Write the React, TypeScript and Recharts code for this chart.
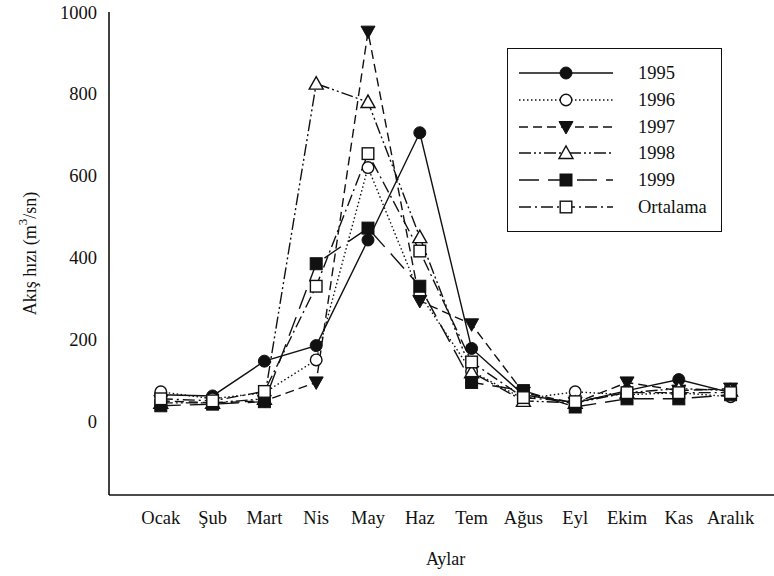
import { LineChart, Line, XAxis, YAxis, Legend, Label } from 'recharts'

const months = ['Ocak', 'Şub', 'Mart', 'Nis', 'May', 'Haz', 'Tem', 'Ağus', 'Eyl', 'Ekim', 'Kas', 'Aralık']

const y1995 = [65, 62, 147, 185, 443, 705, 178, 65, 45, 75, 102, 70]
const y1996 = [72, 55, 70, 150, 620, 310, 122, 55, 72, 65, 70, 60]
const y1997 = [50, 45, 50, 95, 952, 294, 237, 70, 45, 95, 75, 80]
const y1998 = [45, 45, 55, 825, 780, 450, 120, 50, 45, 70, 80, 75]
const y1999 = [38, 42, 48, 385, 472, 330, 95, 75, 35, 55, 55, 65]
const ortalama = [55, 50, 73, 330, 654, 416, 145, 58, 48, 70, 70, 70]

const yTicks = [0, 200, 400, 600, 800, 1000]
const xTicks = months.map((_, i) => i + 1)

const data = months.map((m, i) => ({
  idx: i + 1,
  month: m,
  y1995: y1995[i],
  y1996: y1996[i],
  y1997: y1997[i],
  y1998: y1998[i],
  y1999: y1999[i],
  ortalama: ortalama[i],
}))

const FONT = "'Liberation Serif', 'Times New Roman', serif"
const INK = '#111'

type MarkerType = 'circleFilled' | 'circleOpen' | 'triDown' | 'triUp' | 'squareFilled' | 'squareOpen'

const series: { key: string; name: string; dash?: string; marker: MarkerType }[] = [
  { key: 'y1995', name: '1995', marker: 'circleFilled' },
  { key: 'y1996', name: '1996', dash: '1.5 2.5', marker: 'circleOpen' },
  { key: 'y1997', name: '1997', dash: '9 5', marker: 'triDown' },
  { key: 'y1998', name: '1998', dash: '12 3 2 3 2 3', marker: 'triUp' },
  { key: 'y1999', name: '1999', dash: '20 9', marker: 'squareFilled' },
  { key: 'ortalama', name: 'Ortalama', dash: '12 4 2 4', marker: 'squareOpen' },
]

// marker shapes drawn the SigmaPlot way
const Marker = ({ type, cx, cy }: { type: MarkerType; cx: number; cy: number }) => {
  if (cx == null || cy == null) return null
  switch (type) {
    case 'circleFilled':
      return <circle cx={cx} cy={cy} r={6} fill={INK} stroke={INK} strokeWidth={1} />
    case 'circleOpen':
      return <circle cx={cx} cy={cy} r={5.8} fill="#fff" stroke={INK} strokeWidth={1.4} />
    case 'triDown':
      return <polygon points={`${cx - 7},${cy - 5.5} ${cx + 7},${cy - 5.5} ${cx},${cy + 7}`} fill={INK} stroke={INK} />
    case 'triUp':
      return <polygon points={`${cx - 7},${cy + 5.5} ${cx + 7},${cy + 5.5} ${cx},${cy - 7}`} fill="#fff" stroke={INK} strokeWidth={1.4} />
    case 'squareFilled':
      return <rect x={cx - 6} y={cy - 6} width={12} height={12} fill={INK} stroke={INK} />
    case 'squareOpen':
      return <rect x={cx - 5.8} y={cy - 5.8} width={11.6} height={11.6} fill="#fff" stroke={INK} strokeWidth={1.4} />
  }
  return null
}

const renderLegend = () => (
  <div
    style={{
      position: 'relative',
      width: 215,
      height: 184,
      boxSizing: 'border-box',
      border: `1.5px solid ${INK}`,
      background: '#fff',
      fontFamily: FONT,
      fontSize: 18.5,
      color: INK,
    }}
  >
    {series.map((s, i) => (
      <div
        key={s.key}
        style={{ position: 'absolute', left: 0, top: 24 + i * 26.8 - 12, height: 24, display: 'flex', alignItems: 'center' }}
      >
        <svg width={118} height={24} style={{ display: 'block' }}>
          <line x1={11} x2={105} y1={12} y2={12} stroke={INK} strokeWidth={1.4} strokeDasharray={s.dash} />
          <Marker type={s.marker} cx={58} cy={12} />
        </svg>
        <span style={{ marginLeft: 12, lineHeight: '24px' }}>{s.name}</span>
      </div>
    ))}
  </div>
)

const YTitle = ({ viewBox }: any) => {
  const cy = viewBox.y + viewBox.height / 2
  const cx = 30
  return (
    <text
      x={cx}
      y={cy}
      transform={`rotate(-90 ${cx} ${cy})`}
      textAnchor="middle"
      dominantBaseline="central"
      fontFamily={FONT}
      fontSize={18}
      fill={INK}
    >
      Akış hızı (m<tspan dy={-8} fontSize={13}>3</tspan>
      <tspan dy={8}>/sn)</tspan>
    </text>
  )
}

const XTitle = ({ viewBox }: any) => (
  <text x={viewBox.x + viewBox.width / 2} y={565} textAnchor="middle" fontFamily={FONT} fontSize={18} fill={INK}>
    Aylar
  </text>
)

export default function App() {
  return (
    <div style={{ position: 'absolute', left: 0, top: 0, width: 774, height: 576, overflow: 'hidden', background: '#fff' }}>
      <LineChart width={790} height={576} data={data} margin={{ top: 12, right: 7.6, left: 0, bottom: 0 }}>
        <XAxis
          dataKey="idx"
          type="number"
          domain={[0, 13]}
          ticks={xTicks}
          tickFormatter={(v: number) => months[v - 1]}
          interval={0}
          height={81}
          tickLine={false}
          tickSize={0}
          tickMargin={16}
          axisLine={{ stroke: INK, strokeWidth: 1.6 }}
          tick={{ fill: INK, fontSize: 18.5, fontFamily: FONT }}
        >
          <Label content={XTitle} />
        </XAxis>
        <XAxis
          xAxisId="top"
          orientation="top"
          dataKey="idx"
          type="number"
          domain={[0, 13]}
          height={0}
          tick={false}
          tickLine={false}
          axisLine={{ stroke: INK, strokeWidth: 1.6 }}
        />
        <YAxis
          type="number"
          domain={[-180, 1000]}
          ticks={yTicks}
          allowDataOverflow
          width={109}
          tickLine={false}
          tickSize={0}
          tickMargin={12}
          axisLine={{ stroke: INK, strokeWidth: 1.6 }}
          tick={{ fill: INK, fontSize: 18.5, fontFamily: FONT }}
        >
          <Label content={YTitle} />
        </YAxis>
        <Legend
          layout="horizontal"
          verticalAlign="middle"
          align="center"
          content={renderLegend}
          wrapperStyle={{ position: 'absolute', left: 507, top: 48, width: 215, height: 184 }}
        />
        {series.map((s) => (
          <Line
            key={s.key}
            dataKey={s.key}
            name={s.name}
            type="linear"
            stroke={INK}
            strokeWidth={1.4}
            strokeDasharray={s.dash}
            isAnimationActive={false}
            activeDot={false}
            dot={(p: any) => <Marker key={`${s.key}-${p.index}`} type={s.marker} cx={p.cx} cy={p.cy} />}
          />
        ))}
      </LineChart>
    </div>
  )
}
